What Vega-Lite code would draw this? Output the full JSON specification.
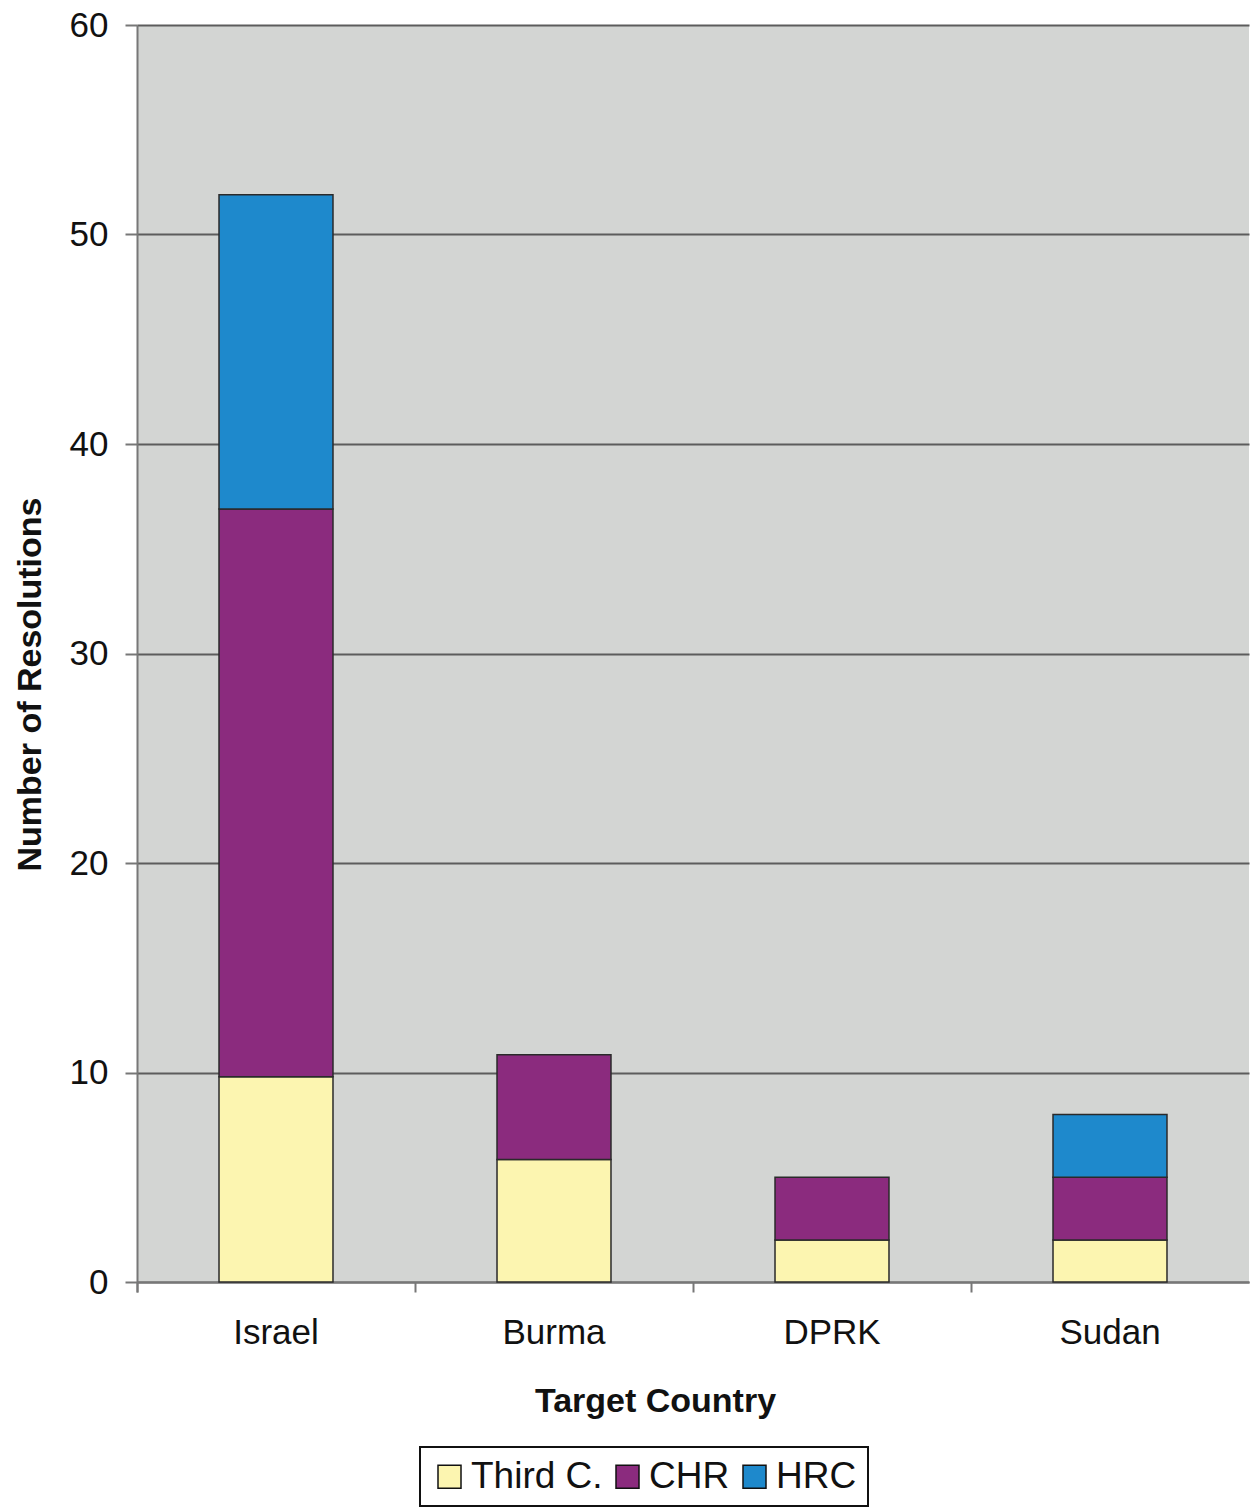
{
  "$schema": "https://vega.github.io/schema/vega-lite/v6.json",
  "width": 1112,
  "height": 1257,
  "autosize": {"type": "none"},
  "padding": {"left": 137, "top": 25, "right": 2, "bottom": 227},
  "background": "white",
  "config": {
    "font": "Liberation Sans",
    "view": {"fill": "#d3d5d3", "stroke": null},
    "legend": {"strokeWidth": 2}
  },
  "data": {
    "values": [
      {"country": "Israel", "body": "Third C.", "count": 9.8},
      {"country": "Israel", "body": "CHR", "count": 27.1},
      {"country": "Israel", "body": "HRC", "count": 15.0},
      {"country": "Burma", "body": "Third C.", "count": 5.85},
      {"country": "Burma", "body": "CHR", "count": 5.0},
      {"country": "DPRK", "body": "Third C.", "count": 2},
      {"country": "DPRK", "body": "CHR", "count": 3},
      {"country": "Sudan", "body": "Third C.", "count": 2},
      {"country": "Sudan", "body": "CHR", "count": 3},
      {"country": "Sudan", "body": "HRC", "count": 3}
    ]
  },
  "transform": [
    {"window": [{"op": "row_number", "as": "rowIndex"}]}
  ],
  "mark": {"type": "bar", "width": {"band": 0.41}, "stroke": "#2a2a2a", "strokeWidth": 1.5},
  "encoding": {
    "x": {
      "field": "country",
      "type": "nominal",
      "sort": ["Israel", "Burma", "DPRK", "Sudan"],
      "scale": {"paddingInner": 0, "paddingOuter": 0},
      "axis": {
        "title": "Target Country",
        "titleFontSize": 34,
        "titleFontWeight": "bold",
        "titleColor": "#111",
        "titleX": 518,
        "titleY": 129,
        "titleBaseline": "alphabetic",
        "titleAlign": "center",
        "labelAngle": 0,
        "labelFontSize": 35,
        "labelColor": "#111",
        "labelPadding": 23,
        "bandPosition": 0,
        "tickExtra": true,
        "tickSize": 10,
        "tickColor": "#777",
        "tickWidth": 2,
        "domainColor": "#777",
        "domainWidth": 2,
        "grid": false
      }
    },
    "y": {
      "field": "count",
      "type": "quantitative",
      "stack": "zero",
      "scale": {"domain": [0, 60], "nice": false},
      "axis": {
        "title": "Number of Resolutions",
        "titleFontSize": 34,
        "titleFontWeight": "bold",
        "titleColor": "#111",
        "titleX": -107,
        "titleY": 659,
        "titleBaseline": "middle",
        "titleAlign": "center",
        "titleAngle": -90,
        "values": [0, 10, 20, 30, 40, 50, 60],
        "labelFontSize": 35,
        "labelColor": "#111",
        "labelPadding": 17,
        "tickSize": 12,
        "tickColor": "#777",
        "tickWidth": 2,
        "domainColor": "#777",
        "domainWidth": 2,
        "grid": true,
        "gridColor": "#5c5c5c",
        "gridWidth": 2
      }
    },
    "order": {"field": "rowIndex", "type": "quantitative", "sort": "ascending"},
    "color": {
      "field": "body",
      "type": "nominal",
      "sort": ["Third C.", "CHR", "HRC"],
      "scale": {"domain": ["Third C.", "CHR", "HRC"], "range": ["#fcf5b0", "#8b2b7e", "#1e89cc"]},
      "legend": {
        "title": null,
        "orient": "none",
        "legendX": 283,
        "legendY": 1422,
        "direction": "horizontal",
        "symbolType": "square",
        "symbolSize": 529,
        "symbolStrokeColor": "#111",
        "symbolStrokeWidth": 1.5,
        "symbolOpacity": 1,
        "labelFontSize": 37,
        "labelColor": "#111",
        "labelOffset": 3,
        "columnPadding": 6,
        "padding": 11,
        "strokeColor": "#111",
        "fillColor": "white"
      }
    }
  }
}
